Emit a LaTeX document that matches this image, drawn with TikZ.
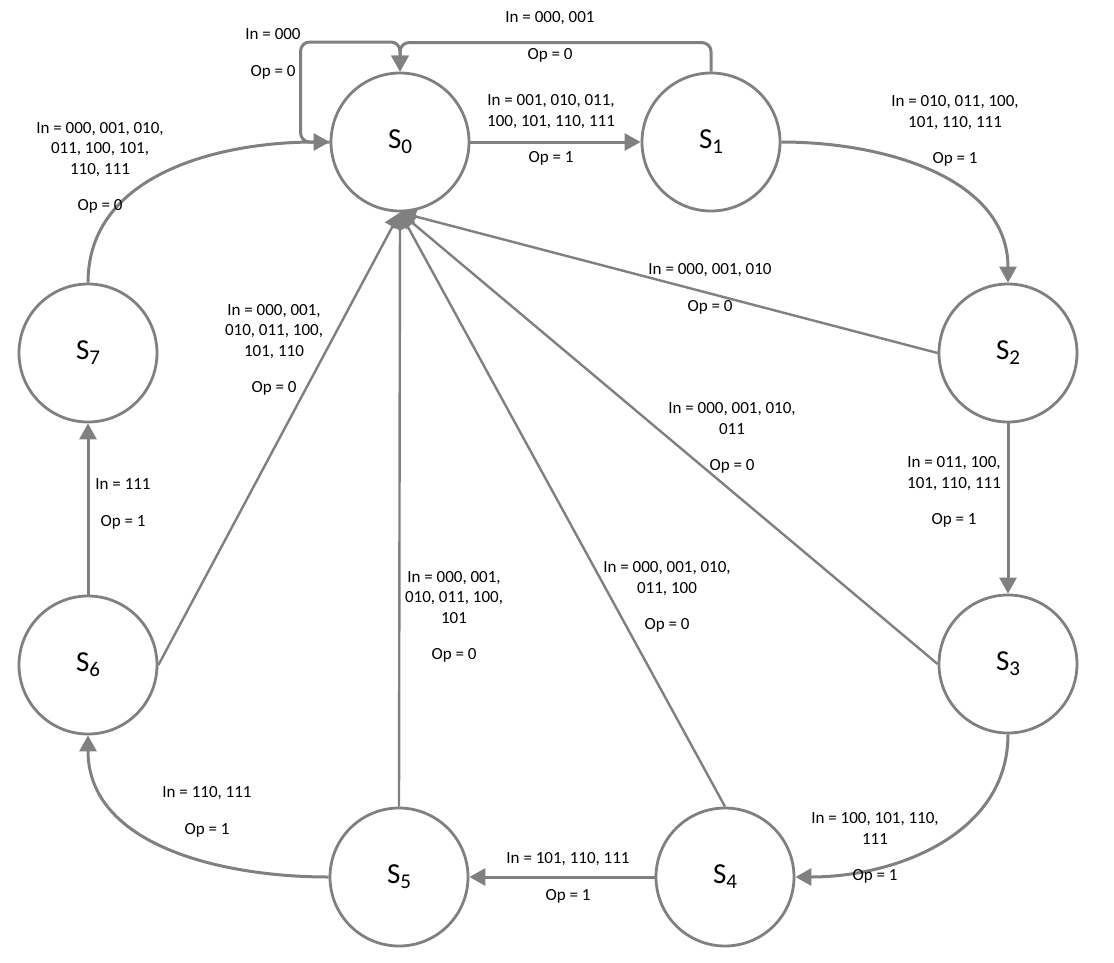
\documentclass[tikz,border=0pt]{standalone}
\usepackage{fontspec}
\setmainfont{Carlito}
\usetikzlibrary{arrows.meta,positioning}

\definecolor{linegray}{HTML}{808080}
\newcommand{\st}[1]{S\raisebox{-5pt}{\fontsize{21}{21}\selectfont #1}}

\begin{document}
\begin{tikzpicture}[x=1pt,y=1pt,
		state/.style={circle,draw=linegray,line width=2.8pt,minimum size=138pt,inner sep=0pt,font=\fontsize{29}{29}\selectfont},
		edge/.style={draw=linegray,line width=3pt,-{Triangle[length=16pt,width=17pt]}},
		spoke/.style={edge,line width=2.4pt},
		lbl/.style={align=center,inner sep=0pt,font=\fontsize{17}{20.5}\selectfont}]
		\useasboundingbox (0,0) rectangle (1114,-962);

		% states
		\node[state] (S0) at (400,-142) {\st{0}};
		\node[state] (S1) at (711,-142) {\st{1}};
		\node[state] (S2) at (1008,-353) {\st{2}};
		\node[state] (S3) at (1008,-664) {\st{3}};
		\node[state] (S4) at (725,-877) {\st{4}};
		\node[state] (S5) at (399,-877) {\st{5}};
		\node[state] (S6) at (88,-665) {\st{6}};
		\node[state] (S7) at (88,-353) {\st{7}};

		% transitions around the ring
		\draw[edge] (S0) -- (S1);
		\draw[edge] (S1.east) to[out=0,in=90] (S2.north);
		\draw[edge] (S2) -- (S3);
		\draw[edge] (S3.south) to[out=-90,in=0] (S4.east);
		\draw[edge] (S4) -- (S5);
		\draw[edge] (S5.west) to[out=180,in=-90] (S6.south);
		\draw[edge] (S6) -- (S7);
		\draw[edge] (S7.north) to[out=90,in=180] (S0.west);

		% back to S0 from above
		\draw[edge,rounded corners=9pt] (S0.west) -- ++(-29,0) -- ++(0,100) -| (S0.north);
		\draw[edge,rounded corners=9pt] (S1.north) -- ++(0,29) -| (S0.north);

		% back to S0 from below
		\draw[spoke] (S2.west) -- (S0.south);
		\draw[spoke] (S3.west) -- (S0.south);
		\draw[spoke] (S4.north) -- (S0.south);
		\draw[spoke] (S5.north) -- (S0.south);
		\draw[spoke] (S6.east) -- (S0.south);

		% labels
		\node[lbl] (t00) at (273,-54) {In = 000\\[16pt]Op = 0};
		\node[lbl] (t10) at (550,-37) {In = 000, 001\\[16pt]Op = 0};
		\node[lbl] (t01) at (551,-130) {In = 001, 010, 011,\\100, 101, 110, 111\\[16pt]Op = 1};
		\node[lbl] (t12) at (955,-131) {In = 010, 011, 100,\\101, 110, 111\\[16pt]Op = 1};
		\node[lbl] (t20) at (710,-289) {In = 000, 001, 010\\[16pt]Op = 0};
		\node[lbl] (t23) at (954,-492) {In = 011, 100,\\101, 110, 111\\[16pt]Op = 1};
		\node[lbl] (t30) at (732,-438) {In = 000, 001, 010,\\011\\[16pt]Op = 0};
		\node[lbl] (t34) at (875,-848) {In = 100, 101, 110,\\111\\[16pt]Op = 1};
		\node[lbl] (t40) at (667,-597) {In = 000, 001, 010,\\011, 100\\[16pt]Op = 0};
		\node[lbl] (t45) at (568,-878) {In = 101, 110, 111\\[16pt]Op = 1};
		\node[lbl] (t50) at (454,-617) {In = 000, 001,\\010, 011, 100,\\101\\[16pt]Op = 0};
		\node[lbl] (t56) at (207,-812) {In = 110, 111\\[16pt]Op = 1};
		\node[lbl] (t60) at (274,-350) {In = 000, 001,\\010, 011, 100,\\101, 110\\[16pt]Op = 0};
		\node[lbl] (t67) at (123,-504) {In = 111\\[16pt]Op = 1};
		\node[lbl] (t70) at (100,-168) {In = 000, 001, 010,\\011, 100, 101,\\110, 111\\[16pt]Op = 0};
\end{tikzpicture}
\end{document}
